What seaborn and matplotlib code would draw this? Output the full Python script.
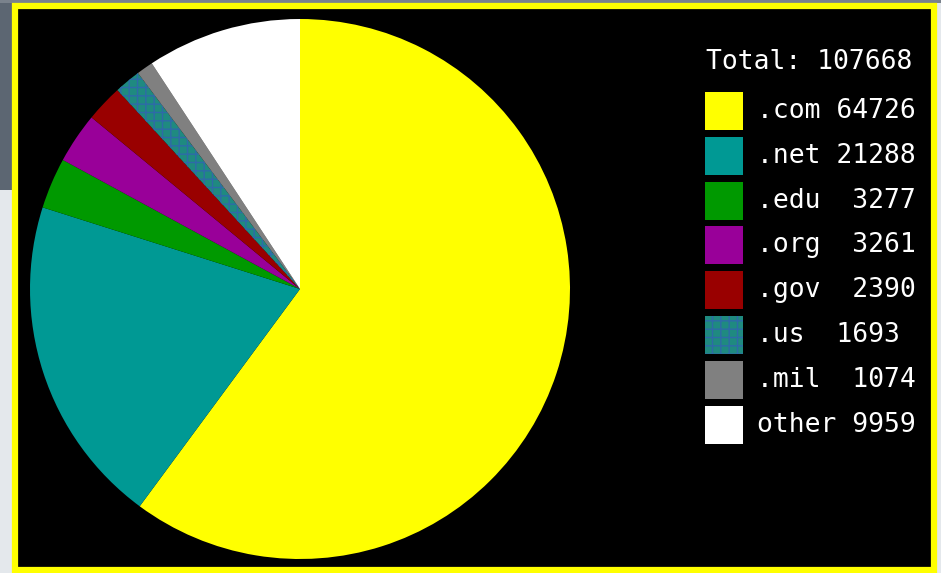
import matplotlib
matplotlib.use("Agg")
import matplotlib.pyplot as plt
import seaborn as sns
from matplotlib.patches import Rectangle

# --- DATA ---
tlds = [".com", ".net", ".edu", ".org", ".gov", ".us", ".mil", "other"]
counts = [64726, 21288, 3277, 3261, 2390, 1693, 1074, 9959]
legend_labels = [".com 64726", ".net 21288", ".edu  3277", ".org  3261",
                 ".gov  2390", ".us  1693", ".mil  1074", "other 9959"]
total_label = "Total: 107668"
colors = ["#ffff00", "#009994", "#009900", "#990099",
          "#990000", "#1f8a80", "#808080", "#ffffff"]

W, H = 941, 573

sns.set_style("dark")
plt.rcParams['font.family'] = ['DejaVu Sans Mono', 'DejaVu Sans']

fig = plt.figure(figsize=(W / 100, H / 100), dpi=100)
fig.patch.set_facecolor("#e4e8ec")


def px(x, y):
    """pixel position (from top-left) -> figure fraction"""
    return x / W, 1 - y / H


# screenshot background behind the frame
fig.patches.append(Rectangle(px(0, 190), 12 / W, 190 / H, transform=fig.transFigure,
                             facecolor="#5c6672", edgecolor="none", zorder=0))
fig.patches.append(Rectangle(px(0, 3), 1, 3 / H, transform=fig.transFigure,
                             facecolor="#7a828c", edgecolor="none", zorder=0))

# yellow-bordered black panel
fig.patches.append(Rectangle(px(15, 570), 919 / W, 564 / H, transform=fig.transFigure,
                             facecolor="black", edgecolor="#ffff00", linewidth=4.5, zorder=1))

# --- PIE ---
cx, cy, r = 300, 289, 270
ax = fig.add_axes([(cx - r) / W, (H - cy - r) / H, 2 * r / W, 2 * r / H])
ax.set_zorder(2)
ax.set_facecolor("none")
wedges, _ = ax.pie(counts, colors=colors, startangle=90, counterclock=False,
                   wedgeprops=dict(linewidth=0))
wedges[tlds.index(".us")].set_hatch("++")
wedges[tlds.index(".us")].set_edgecolor("#2e6aa8")
ax.set_xlim(-1, 1)
ax.set_ylim(-1, 1)
ax.set_aspect("equal")
ax.axis("off")

# --- LEGEND ---
fig.text(*px(706, 62), total_label, color="white", fontsize=19, va="center", ha="left", zorder=3)
for i, (lab, col) in enumerate(zip(legend_labels, colors)):
    yc = 111 + i * 44.8
    sq = Rectangle(px(705, yc + 19), 38 / W, 38 / H, transform=fig.transFigure,
                   facecolor=col, edgecolor="none", zorder=3)
    if tlds[i] == ".us":
        sq.set_hatch("++")
        sq.set_edgecolor("#2e6aa8")
        sq.set_linewidth(0)
    fig.patches.append(sq)
    fig.text(*px(757, yc), lab, color="white", fontsize=19, va="center", ha="left", zorder=3)

fig.savefig("out.png", dpi=100, facecolor=fig.get_facecolor())
